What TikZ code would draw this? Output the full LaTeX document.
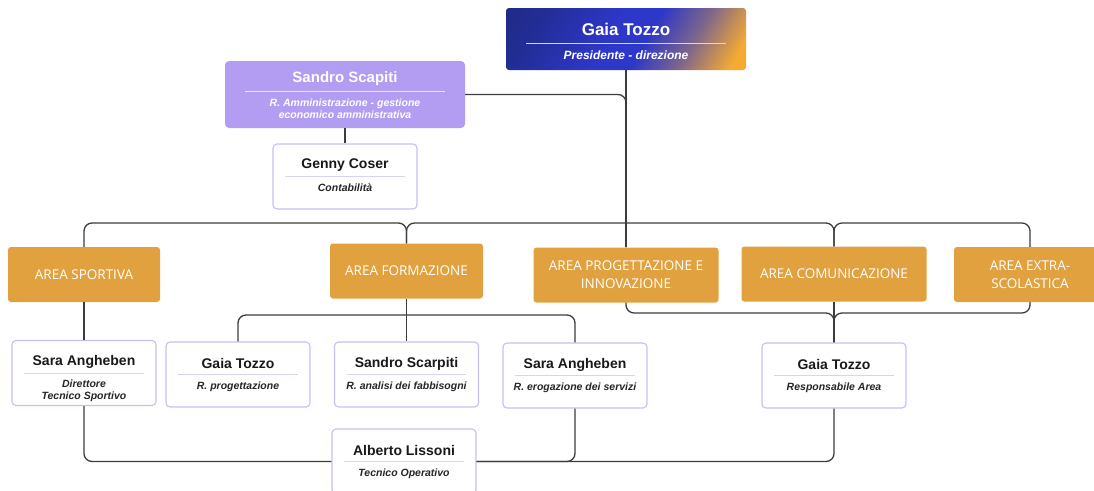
\documentclass[tikz,border=0pt]{standalone}
\usepackage{fontspec}
\setmainfont{Liberation Sans}
\newfontfamily\areafont{Open Sans}
\usetikzlibrary{calc,positioning}

\definecolor{grafite}{HTML}{3C3C3C}
\definecolor{lavanda}{HTML}{B39DF2}
\definecolor{bordo}{HTML}{C8BEF5}
\definecolor{divisore}{HTML}{D9D2F7}
\definecolor{senape}{HTML}{E1A13F}
\definecolor{notte}{HTML}{1B2672}
\definecolor{blu}{HTML}{2D37C8}
\definecolor{arancio}{HTML}{F4AA33}

\pgfdeclarehorizontalshading{presshade}{100bp}{%
  color(0bp)=(notte); color(25bp)=(notte!60!blu); color(45bp)=(blu);
  color(55bp)=(blu); color(67bp)=(arancio!40!blu); color(80bp)=(arancio); color(100bp)=(arancio)}

\tikzset{
  collega/.style={draw=grafite,line width=1.3pt,rounded corners=8pt},
  area/.style={fill=senape,rounded corners=3pt,text=white,align=center,
    font=\areafont\fontsize{13.5}{18}\selectfont,minimum height=55pt,inner sep=0pt},
  persona/.style={draw=bordo,fill=white,line width=1.1pt,rounded corners=4pt,
    minimum width=144pt,minimum height=65pt,inner sep=0pt},
  nome/.style={font=\bfseries\fontsize{14}{16}\selectfont,text=black!90,inner sep=0pt},
  ruolo/.style={font=\bfseries\itshape\fontsize{10.5}{12}\selectfont,text=black!85,
    align=center,inner sep=0pt,anchor=north},
}

\begin{document}
\begin{tikzpicture}[x=1pt,y=-1pt]
  \useasboundingbox (0,0) rectangle (1094,490);
  % presidente
  \node[shade,shading=presshade,shading angle=-30,rounded corners=3pt,
    minimum width=240pt,minimum height=62pt] (pres) at (626,39) {};
  \node[font=\bfseries\fontsize{17}{20}\selectfont,text=white,inner sep=0pt]
    at ([yshift=-22pt]pres.north) {Gaia Tozzo};
  \draw[white!80!blu,line width=0.6pt] ([xshift=20pt,yshift=-35pt]pres.north west)
    -- ([xshift=-20pt,yshift=-35pt]pres.north east);
  \node[ruolo,anchor=base,text=white,font=\bfseries\itshape\fontsize{12}{14}\selectfont]
    at ([yshift=-52pt]pres.north) {Presidente - direzione};
  % amministrazione
  \node[fill=lavanda,rounded corners=4pt,minimum width=240pt,minimum height=67pt]
    (scapiti) at (345,94.5) {};
  \node[font=\bfseries\fontsize{15}{18}\selectfont,text=white,inner sep=0pt]
    at ([yshift=-18pt]scapiti.north) {Sandro Scapiti};
  \draw[white!70!lavanda,line width=0.6pt] ([xshift=20pt,yshift=-30pt]scapiti.north west)
    -- ([xshift=-20pt,yshift=-30pt]scapiti.north east);
  \node[ruolo,text=white,font=\bfseries\itshape\fontsize{10.5}{12.3}\selectfont]
    at ([yshift=-37.5pt]scapiti.north) {R. Amministrazione - gestione\\economico amministrativa};
  % aree
  \foreach \id/\px/\py/\w/\testo in {%
    sportiva/84/274.5/152/AREA SPORTIVA,
    formazione/406.5/271/153/AREA FORMAZIONE,
    progettazione/626/275/185/{AREA PROGETTAZIONE E\\INNOVAZIONE},
    comunicazione/834/274/185/AREA COMUNICAZIONE,
    extra/1030/274.5/152/{AREA EXTRA-\\SCOLASTICA}}{%
      \node[area,minimum width=\w pt] (\id) at (\px,\py) {\testo};
    }
  % persone
  \foreach \id/\px/\py/\nm/\rl in {%
    coser/345/176.5/Genny Coser/Contabilità,
    sara1/84/373/Sara Angheben/{Direttore\\Tecnico Sportivo},
    gaia2/238/374.5/Gaia Tozzo/R. progettazione,
    scarpiti/406.5/374.5/Sandro Scarpiti/R. analisi dei fabbisogni,
    sara2/575/375.5/Sara Angheben/R. erogazione dei servizi,
    gaiaresp/834/375.5/Gaia Tozzo/Responsabile Area,
    lissoni/404/461.5/Alberto Lissoni/Tecnico Operativo}{%
      \node[persona] (\id) at (\px,\py) {};
      \node[nome] at ([yshift=-22pt]\id.north) {\nm};
      \draw[divisore,line width=0.6pt] ([xshift=13pt,yshift=-33pt]\id.north west)
        -- ([xshift=-13pt,yshift=-33pt]\id.north east);
      \node[ruolo] at ([yshift=-40pt]\id.north) {\rl};
    }
  % collegamenti
  \coordinate(bus) at (0,223);
  \coordinate(giu) at (0,313);
  \coordinate(form) at (0,315);
  \draw[collega] (pres.south) -- (progettazione.north);
  \draw[collega] (scapiti.east) -| (progettazione.north);
  \draw[collega] (scapiti.south) -- (coser.north);
  \draw[collega] (sportiva.north) |- (formazione.north |- bus) -- (formazione.north);
  \draw[collega] (formazione.north) |- (comunicazione.north |- bus) -- (comunicazione.north);
  \draw[collega] (comunicazione.north) |- (extra.north |- bus) -- (extra.north);
  \draw[collega] (sportiva.south) -- (sara1.north);
  \draw[collega] (formazione.south) -- (scarpiti.north);
  \draw[collega] (gaia2.north) |- (sara2.north |- form) -- (sara2.north);
  \draw[collega] (progettazione.south) |- (gaiaresp.north |- giu) -- (gaiaresp.north);
  \draw[collega] (extra.south) |- (gaiaresp.north |- giu) -- (gaiaresp.north);
  \draw[collega] (comunicazione.south) -- (gaiaresp.north);
  \draw[collega] (sara1.south) |- (lissoni.west);
  \draw[collega] (gaiaresp.south) |- (lissoni.east);
  \draw[collega] (sara2.south) |- (lissoni.east);
\end{tikzpicture}
\end{document}
